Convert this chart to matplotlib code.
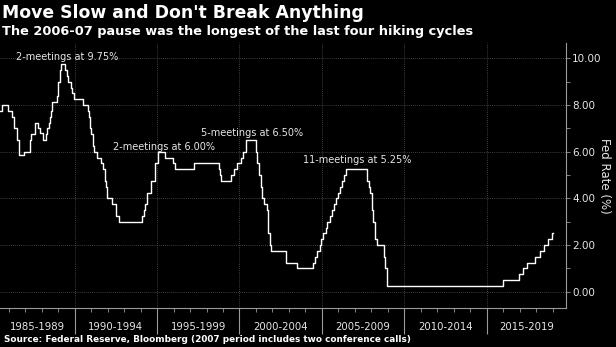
import matplotlib
matplotlib.use("Agg")
import matplotlib.pyplot as plt
import matplotlib.transforms as mtransforms
import numpy as np

# fed funds target, step changes (decimal year, rate %)
dates = [1985.47, 1985.61, 1985.96, 1986.18, 1986.30, 1986.53, 1986.64, 1986.93,
         1987.29, 1987.33, 1987.62, 1987.76, 1987.88,
         1988.08, 1988.24, 1988.35, 1988.43, 1988.50, 1988.55, 1988.60, 1988.90, 1988.97,
         1989.01, 1989.11, 1989.12, 1989.15, 1989.43, 1989.51, 1989.57, 1989.80, 1989.85, 1989.97,
         1990.53, 1990.82, 1990.87, 1990.93, 1990.96,
         1991.02, 1991.09, 1991.18, 1991.33, 1991.60, 1991.70, 1991.83, 1991.85, 1991.93, 1991.97,
         1992.27, 1992.50, 1992.68,
         1994.09, 1994.22, 1994.29, 1994.37, 1994.62, 1994.87,
         1995.08, 1995.51, 1995.96, 1996.08, 1997.23,
         1998.74, 1998.79, 1998.88, 1999.50, 1999.64, 1999.87,
         2000.09, 2000.22, 2000.37,
         2001.01, 2001.08, 2001.21, 2001.29, 2001.37, 2001.49, 2001.64, 2001.71, 2001.75, 2001.85, 2001.94,
         2002.85, 2003.48,
         2004.49, 2004.61, 2004.72, 2004.86, 2004.95,
         2005.09, 2005.22, 2005.33, 2005.49, 2005.60, 2005.72, 2005.83, 2005.95,
         2006.08, 2006.24, 2006.36, 2006.49,
         2007.71, 2007.83, 2007.94,
         2008.06, 2008.08, 2008.21, 2008.33, 2008.77, 2008.83, 2008.96,
         2015.96, 2016.95, 2017.20, 2017.45, 2017.95,
         2018.22, 2018.45, 2018.74, 2018.97, 2019.00]
rates = [7.75, 8.0, 7.75, 7.5, 7.0, 6.5, 5.875, 6.0,
         6.5, 6.75, 7.25, 7.0, 6.8125,
         6.5, 6.75, 7.0, 7.25, 7.5, 7.75, 8.125, 8.375, 8.75,
         9.0, 9.25, 9.5, 9.75, 9.5, 9.25, 9.0, 8.75, 8.5, 8.25,
         8.0, 7.75, 7.5, 7.25, 7.0,
         6.75, 6.25, 6.0, 5.75, 5.5, 5.25, 5.0, 4.75, 4.5, 4.0,
         3.75, 3.25, 3.0,
         3.25, 3.5, 3.75, 4.25, 4.75, 5.5,
         6.0, 5.75, 5.5, 5.25, 5.5,
         5.25, 5.0, 4.75, 5.0, 5.25, 5.5,
         5.75, 6.0, 6.5,
         6.0, 5.5, 5.0, 4.5, 4.0, 3.75, 3.5, 3.0, 2.5, 2.0, 1.75,
         1.25, 1.0,
         1.25, 1.5, 1.75, 2.0, 2.25,
         2.5, 2.75, 3.0, 3.25, 3.5, 3.75, 4.0, 4.25,
         4.5, 4.75, 5.0, 5.25,
         4.75, 4.5, 4.25,
         3.5, 3.0, 2.25, 2.0, 1.5, 1.0, 0.25,
         0.5, 0.75, 1.0, 1.25, 1.5,
         1.75, 2.0, 2.25, 2.5, 2.5]

period_starts = [1985, 1990, 1995, 2000, 2005, 2010, 2015]
period_labels = ["1985-1989", "1990-1994", "1995-1999", "2000-2004",
                 "2005-2009", "2010-2014", "2015-2019"]

notes = ["2-meetings at 9.75%", "2-meetings at 6.00%",
         "5-meetings at 6.50%", "11-meetings at 5.25%"]
note_x = [1989.57, 1995.45, 2000.74, 2007.13]
note_y = [10.07, 6.20, 6.82, 5.63]

xmin, xmax = 1985.47, 2019.81
ymin, ymax = -0.70, 10.66

txt = "#e6e6e6"
grey = "#9a9a9a"

fig = plt.figure(figsize=(6.16, 3.47), dpi=100, facecolor="black")
ax = fig.add_axes([0.0, 1 - 308 / 347, 566 / 616, (308 - 43) / 347])
ax.set_facecolor("black")

ax.step(dates, rates, where="post", color="white", lw=1.0)

ax.set_xlim(xmin, xmax)
ax.set_ylim(ymin, ymax)

# x axis: 5-year separators + yearly minor ticks
ax.set_xticks(period_starts[1:])
ax.set_xticks(np.arange(1986, 2020), minor=True)
ax.tick_params(axis="x", which="major", length=19, width=0.8, color=grey,
               labelbottom=False)
ax.tick_params(axis="x", which="minor", length=3, width=0.6, color=grey)

# y axis on the right
ax.yaxis.tick_right()
ax.yaxis.set_label_position("right")
ax.set_yticks(np.arange(0, 11, 2))
ax.set_yticks(np.arange(1, 11, 2), minor=True)
ax.set_yticklabels(["%.2f" % v for v in np.arange(0, 11, 2)])
ax.tick_params(axis="y", which="both", length=3, width=0.6, color=grey,
               labelcolor=txt, labelsize=7.5, pad=1.5)
ax.set_ylabel("Fed Rate (%)", color=txt, fontsize=8.5, rotation=270, labelpad=7)

for s in ["left", "top"]:
    ax.spines[s].set_visible(False)
for s in ["right", "bottom"]:
    ax.spines[s].set_color(grey)
    ax.spines[s].set_linewidth(0.8)

ax.grid(True, which="major", color="#555555", lw=0.6, ls=(0, (1, 1.5)))
ax.set_axisbelow(True)

# period labels centred in the visible part of each range
trans = mtransforms.blended_transform_factory(ax.transData, ax.transAxes)
for start, lab in zip(period_starts, period_labels):
    a = max(start, xmin)
    b = min(start + 5, xmax)
    ax.text((a + b) / 2, -0.07, lab, transform=trans, ha="center", va="center",
            color=txt, fontsize=7.3)

for t, x, y in zip(notes, note_x, note_y):
    ax.text(x, y, t, ha="center", va="center", color=txt, fontsize=7)

fig.text(0.004, 1 - 13 / 347, "Move Slow and Don't Break Anything", color="white",
         fontsize=12.4, fontweight="bold", ha="left", va="center")
fig.text(0.004, 1 - 31 / 347, "The 2006-07 pause was the longest of the last four hiking cycles",
         color="white", fontsize=9.3, fontweight="bold", ha="left", va="center")
fig.text(0.006, 1 - 339 / 347,
         "Source: Federal Reserve, Bloomberg (2007 period includes two conference calls)",
         color="white", fontsize=6.4, fontweight="bold", ha="left", va="center")

fig.savefig("out.png", dpi=100, facecolor="black")
